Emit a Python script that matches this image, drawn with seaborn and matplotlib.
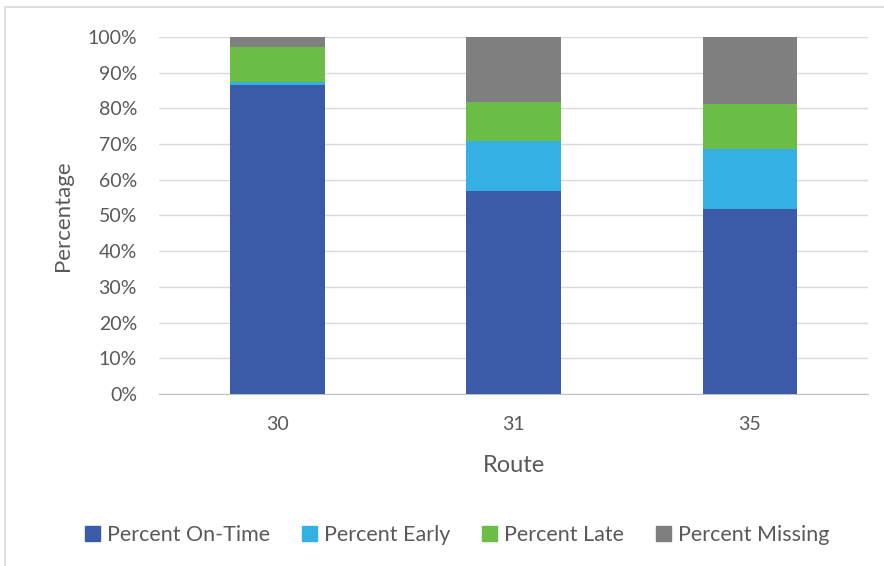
import matplotlib
matplotlib.use("Agg")
import matplotlib.pyplot as plt
import matplotlib.patches as mpatches
import numpy as np
import pandas as pd
import seaborn as sns

routes = ["30", "31", "35"]
series = ["Percent On-Time", "Percent Early", "Percent Late", "Percent Missing"]
on_time = [86.4, 56.9, 51.9]
early = [0.9, 14.0, 16.6]
late = [9.8, 10.9, 12.8]
missing = [2.9, 18.2, 18.7]
colors = ["#3B5BA9", "#35B0E5", "#6CBD45", "#7F7F7F"]

sns.set_style("white")
plt.rcParams["font.family"] = ["Lato", "DejaVu Sans"]

fig = plt.figure(figsize=(8.84, 5.66), dpi=100)
ax = fig.add_axes([0.18, 0.304, 0.802, 0.631])

# stacked bars: draw cumulative totals from the top series down
stack = np.cumsum([on_time, early, late, missing], axis=0)
for i in range(len(series) - 1, -1, -1):
    df = pd.DataFrame({"Route": routes, "value": stack[i]})
    sns.barplot(data=df, x="Route", y="value", color=colors[i], width=0.4,
                saturation=1, linewidth=0, ax=ax, zorder=3)

ax.set_ylim(0, 100)
ax.set_xlim(-0.5, 2.5)
ax.set_yticks(range(0, 101, 10))
ax.set_yticklabels([f"{v}%" for v in range(0, 101, 10)])
ax.yaxis.grid(True, color="#D9D9D9", linewidth=1, zorder=0)
ax.set_axisbelow(True)
for s in ["top", "right", "left"]:
    ax.spines[s].set_visible(False)
ax.spines["bottom"].set_color("#BFBFBF")
ax.tick_params(axis="both", length=0, labelsize=14, colors="#595959")
ax.tick_params(axis="y", pad=16)
ax.tick_params(axis="x", pad=16)
ax.set_xlabel("Route", fontsize=17, color="#595959", labelpad=16)
ax.set_ylabel("Percentage", fontsize=16, color="#595959", labelpad=10)

handles = [mpatches.Patch(color=c, label=s) for c, s in zip(colors, series)]
fig.legend(handles=handles, loc="center", bbox_to_anchor=(0.517, 0.055), ncol=4,
           frameon=False, fontsize=15.5, handlelength=0.7, handleheight=0.7,
           handletextpad=0.3, columnspacing=1.5, labelcolor="#595959")

fig.patches.append(mpatches.Rectangle((5 / 884, -0.1), 1.2, 1.1 - 7 / 566,
                                      transform=fig.transFigure, fill=False,
                                      edgecolor="#D9D9D9", linewidth=1.2))

fig.savefig("out.png", dpi=100)
